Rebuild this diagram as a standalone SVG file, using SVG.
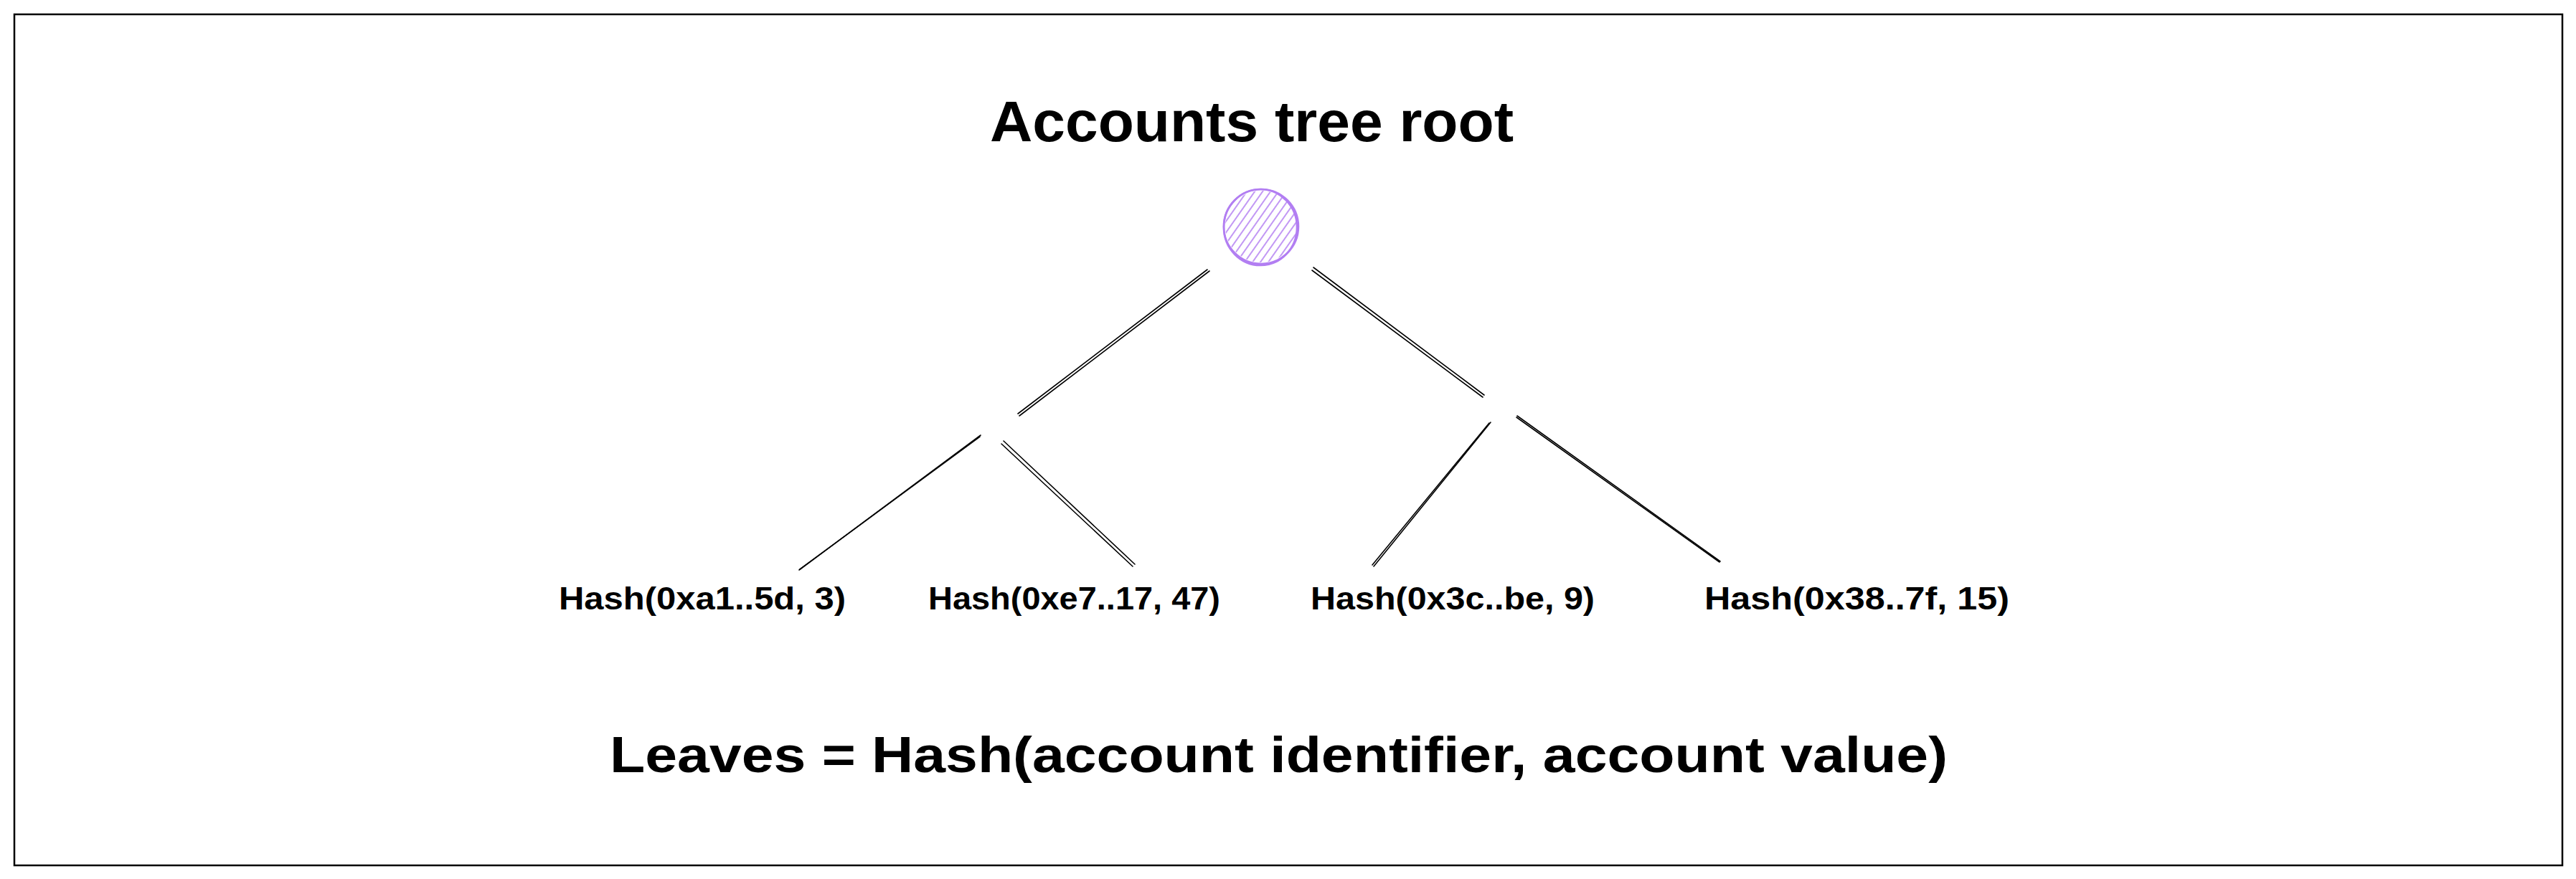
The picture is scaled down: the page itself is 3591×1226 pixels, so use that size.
<svg xmlns="http://www.w3.org/2000/svg" width="3591" height="1226" viewBox="0 0 3591 1226">
  <style>
    .label { font-family: "Liberation Sans", "DejaVu Sans", sans-serif; fill: #000; font-weight: bold; }
    .title { font-size: 80px; }
    .leaf { font-size: 44px; }
    .note { font-size: 70px; }
    .edge { stroke: #000; stroke-width: 1.6; fill: none; stroke-linecap: round; }
    .root-outline { stroke: #b27ef2; stroke-width: 2.6; fill: none; }
  </style>
  <defs>
    <!-- diagonal hatching used inside the root node -->
    <pattern id="hatch" width="9" height="9" patternUnits="userSpaceOnUse" patternTransform="rotate(35)">
      <line x1="2" y1="0" x2="2" y2="9" stroke="#b27ef2" stroke-width="1.6"/>
    </pattern>
    <clipPath id="rootClip">
      <circle cx="1758" cy="316" r="50"/>
    </clipPath>
  </defs>

  <!-- canvas and frame -->
  <rect x="0" y="0" width="3591" height="1226" fill="#fff"/>
  <rect x="20" y="20" width="3552" height="1187" fill="#fff" stroke="#000" stroke-width="2.5"/>

  <g id="title">
    <text class="label title" x="1380" y="197" textLength="730" lengthAdjust="spacingAndGlyphs">Accounts tree root</text>
  </g>

  <g id="root-node">
    <rect x="1700" y="260" width="120" height="120" fill="url(#hatch)" clip-path="url(#rootClip)"/>
    <circle class="root-outline" cx="1758" cy="316" r="52"/>
    <ellipse class="root-outline" cx="1757" cy="317" rx="51" ry="53" stroke-width="1.4"/>
  </g>

  <!-- tree edges, each sketched as a doubled stroke -->
  <g id="connectors">
    <path class="edge" d="M1683 376 L1419 577"/>
    <path class="edge" d="M1686 378 L1421 580"/>

    <path class="edge" d="M1831 373 L2069 551"/>
    <path class="edge" d="M1829 377 L2067 554"/>

    <path class="edge" d="M1367 607 L1114 795"/>
    <path class="edge" d="M1366 609 L1115 794"/>

    <path class="edge" d="M1399 615 L1582 787"/>
    <path class="edge" d="M1396 619 L1579 790"/>

    <path class="edge" d="M2078 589 L1915 790"/>
    <path class="edge" d="M2076 590 L1913 788"/>

    <path class="edge" d="M2115 580 L2398 783"/>
    <path class="edge" d="M2114 582 L2397 784"/>
  </g>

  <g id="leaf-1">
    <text class="label leaf" x="779" y="850" textLength="400" lengthAdjust="spacingAndGlyphs">Hash(0xa1..5d, 3)</text>
  </g>
  <g id="leaf-2">
    <text class="label leaf" x="1294" y="850" textLength="407" lengthAdjust="spacingAndGlyphs">Hash(0xe7..17, 47)</text>
  </g>
  <g id="leaf-3">
    <text class="label leaf" x="1827" y="850" textLength="396" lengthAdjust="spacingAndGlyphs">Hash(0x3c..be, 9)</text>
  </g>
  <g id="leaf-4">
    <text class="label leaf" x="2376" y="850" textLength="425" lengthAdjust="spacingAndGlyphs">Hash(0x38..7f, 15)</text>
  </g>

  <g id="leaves-note">
    <text class="label note" x="850" y="1077" textLength="1865" lengthAdjust="spacingAndGlyphs">Leaves = Hash(account identifier, account value)</text>
  </g>
</svg>
